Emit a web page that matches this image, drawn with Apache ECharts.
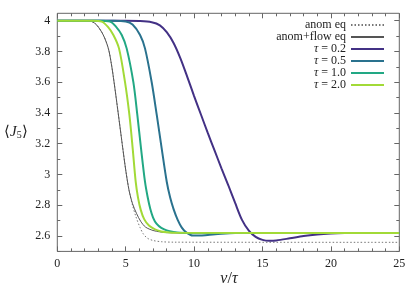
<!DOCTYPE html>
<html>
<head>
<meta charset="utf-8">
<script src="https://cdn.jsdelivr.net/npm/echarts@6/dist/echarts.min.js"></script>
<style>html,body{margin:0;padding:0;background:#fff}#c{width:415px;height:291px}</style>
</head>
<body>
<div id="c"></div>
<script>
// ---- data ----
const vAnomEq  = [0, 2, 2.5, 2.88, 3.36, 3.73, 3.95, 4.15, 4.45, 4.75, 5.0, 5.25, 5.5, 5.75, 6.05, 6.3, 6.6, 7.0, 7.6, 8.5, 25];
const jAnomEq  = [4.0, 3.999, 3.995, 3.972, 3.907, 3.82, 3.72, 3.60, 3.40, 3.195, 3.03, 2.895, 2.80, 2.725, 2.655, 2.612, 2.585, 2.571, 2.563, 2.56, 2.559];

const vFlowEq  = [0, 2, 2.5, 2.88, 3.36, 3.73, 3.95, 4.15, 4.45, 4.75, 5.0, 5.25, 5.5, 5.8, 6.1, 6.45, 7.0, 7.5, 8, 9, 25];
const jFlowEq  = [4.0, 3.999, 3.995, 3.972, 3.907, 3.82, 3.72, 3.60, 3.40, 3.195, 3.03, 2.895, 2.81, 2.745, 2.695, 2.658, 2.636, 2.627, 2.622, 2.62, 2.62];

const vTau02 = [0, 5, 6, 6.9, 7.5, 8.0, 8.5, 9.0, 9.5, 10, 10.5, 11, 11.5, 12, 12.5, 13, 13.5, 14, 14.5, 15, 15.5, 16, 17, 18, 19, 20, 21, 22, 25];
const jTau02 = [4.0, 4.0, 3.998, 3.99, 3.97, 3.925, 3.855, 3.755, 3.635, 3.51, 3.39, 3.27, 3.155, 3.04, 2.93, 2.815, 2.705, 2.635, 2.594, 2.575, 2.569, 2.571, 2.585, 2.60, 2.61, 2.616, 2.619, 2.62, 2.62];

const vTau05 = [0, 4, 5, 5.5, 6.05, 6.41, 6.9, 7.27, 7.63, 8.0, 8.25, 8.5, 8.8, 9.1, 9.45, 9.9, 10.4, 11, 12, 13, 14, 25];
const jTau05 = [4.0, 3.999, 3.995, 3.975, 3.907, 3.82, 3.60, 3.387, 3.17, 2.953, 2.85, 2.775, 2.705, 2.655, 2.622, 2.603, 2.603, 2.607, 2.614, 2.619, 2.62, 2.62];

const vTau10 = [0, 3, 3.85, 4.3, 4.71, 5.07, 5.56, 5.85, 6.12, 6.41, 6.6, 6.8, 7.0, 7.25, 7.6, 8.0, 8.5, 9, 10, 25];
const jTau10 = [4.0, 3.999, 3.994, 3.96, 3.907, 3.82, 3.60, 3.387, 3.17, 2.953, 2.855, 2.775, 2.72, 2.68, 2.653, 2.637, 2.627, 2.622, 2.62, 2.62];

const vTau20 = [0, 2.5, 3.24, 3.7, 4.10, 4.51, 4.95, 5.27, 5.51, 5.73, 5.9, 6.1, 6.35, 6.7, 7.14, 7.6, 8.0, 8.6, 25];
const jTau20 = [4.0, 3.999, 3.994, 3.96, 3.907, 3.82, 3.60, 3.387, 3.17, 2.953, 2.85, 2.77, 2.71, 2.668, 2.643, 2.63, 2.625, 2.621, 2.62];

const yMajorTicks = [2.6, 2.8, 3.0, 3.2, 3.4, 3.6, 3.8, 4.0];
const yMinorTicks = [2.5, 2.7, 2.9, 3.1, 3.3, 3.5, 3.7, 3.9];
const seriesNames = ['anom eq', 'anom+flow eq', 'tau=0.2', 'tau=0.5', 'tau=1.0', 'tau=2.0'];
const legendLabels = {
  'anom eq': 'anom eq',
  'anom+flow eq': 'anom+flow eq',
  'tau=0.2': '{i|τ} = 0.2',
  'tau=0.5': '{i|τ} = 0.5',
  'tau=1.0': '{i|τ} = 1.0',
  'tau=2.0': '{i|τ} = 2.0'
};

const pairs = (xs, ys) => xs.map((x, i) => [x, ys[i]]);
const FONT = 'Liberation Serif';
const AX = '#666';

const chart = echarts.init(document.getElementById('c'), null, {renderer: 'canvas'});

function mkY(pos, major, labels) {
  return {
    type: 'value', position: pos, min: 2.5, max: 4.048,
    axisLine: {show: false}, splitLine: {show: false},
    axisTick: {show: true, inside: true, length: major ? 5 : 3, customValues: major ? yMajorTicks : yMinorTicks, lineStyle: {color: AX}},
    axisLabel: {show: labels, customValues: yMajorTicks, margin: 7, color: '#222', fontFamily: FONT, fontSize: 12,
      formatter: v => String(+(+v).toFixed(1))}
  };
}
function mkX(pos, labels) {
  return {
    type: 'value', position: pos, min: 0, max: 25, interval: 5,
    axisLine: {show: false}, splitLine: {show: false},
    axisTick: {show: true, inside: true, length: 5, lineStyle: {color: AX}},
    minorTick: {show: true, splitNumber: 5, length: 3, lineStyle: {color: AX}},
    axisLabel: {show: labels, margin: 6, color: '#222', fontFamily: FONT, fontSize: 12}
  };
}

const lineS = (name, data, color, width, type) => ({
  name, type: 'line', data, xAxisIndex: 0, yAxisIndex: 0,
  showSymbol: false, symbol: 'none', smooth: 0.3,
  lineStyle: {color, width, type: type || 'solid'}, itemStyle: {color},
  emphasis: {disabled: true}, animation: false, z: 3
});

chart.setOption({
  animation: false,
  backgroundColor: '#fff',
  grid: {left: 57.3, right: 15.7, top: 13.3, bottom: 39.6, show: true, borderColor: AX, borderWidth: 1},
  xAxis: [mkX('bottom', true), mkX('top', false)],
  yAxis: [mkY('left', true, true), mkY('left', false, false), mkY('right', true, false), mkY('right', false, false)],
  legend: {
    orient: 'vertical', right: 30, top: 19, align: 'right',
    itemWidth: 33, itemHeight: 8, itemGap: 0, padding: 0,
    data: seriesNames,
    itemStyle: {opacity: 0},
    formatter: n => legendLabels[n],
    textStyle: {fontFamily: FONT, fontSize: 12, lineHeight: 12, color: '#222',
      rich: {i: {fontFamily: FONT, fontStyle: 'italic', fontSize: 12, lineHeight: 12, color: '#222'}}},
    selectedMode: false
  },
  graphic: [
    {type: 'text', left: 4, top: 125, style: {
      text: '⟨{i|J}{s|5}⟩', fontFamily: FONT, fontSize: 15, fill: '#222',
      rich: {i: {fontFamily: FONT, fontStyle: 'italic', fontSize: 15, fill: '#222'},
             s: {fontFamily: FONT, fontSize: 10, verticalAlign: 'bottom', padding: [6, 0, 0, 0], fill: '#222'}}
    }},
    {type: 'text', x: 229, y: 279, style: {
      text: '{i|v}/{i|τ}', fontFamily: FONT, fontSize: 16, fill: '#222', align: 'center', verticalAlign: 'middle',
      rich: {i: {fontFamily: FONT, fontStyle: 'italic', fontSize: 16, fill: '#222'}}
    }}
  ],
  series: [
    lineS('anom eq', pairs(vAnomEq, jAnomEq), '#777', 1, [1.5, 2]),
    lineS('anom+flow eq', pairs(vFlowEq, jFlowEq), '#555', 1),
    lineS('tau=0.2', pairs(vTau02, jTau02), '#433185', 2),
    lineS('tau=0.5', pairs(vTau05, jTau05), '#2a728e', 2),
    lineS('tau=1.0', pairs(vTau10, jTau10), '#22a884', 2),
    lineS('tau=2.0', pairs(vTau20, jTau20), '#a2da37', 2)
  ]
});
</script>
</body>
</html>
